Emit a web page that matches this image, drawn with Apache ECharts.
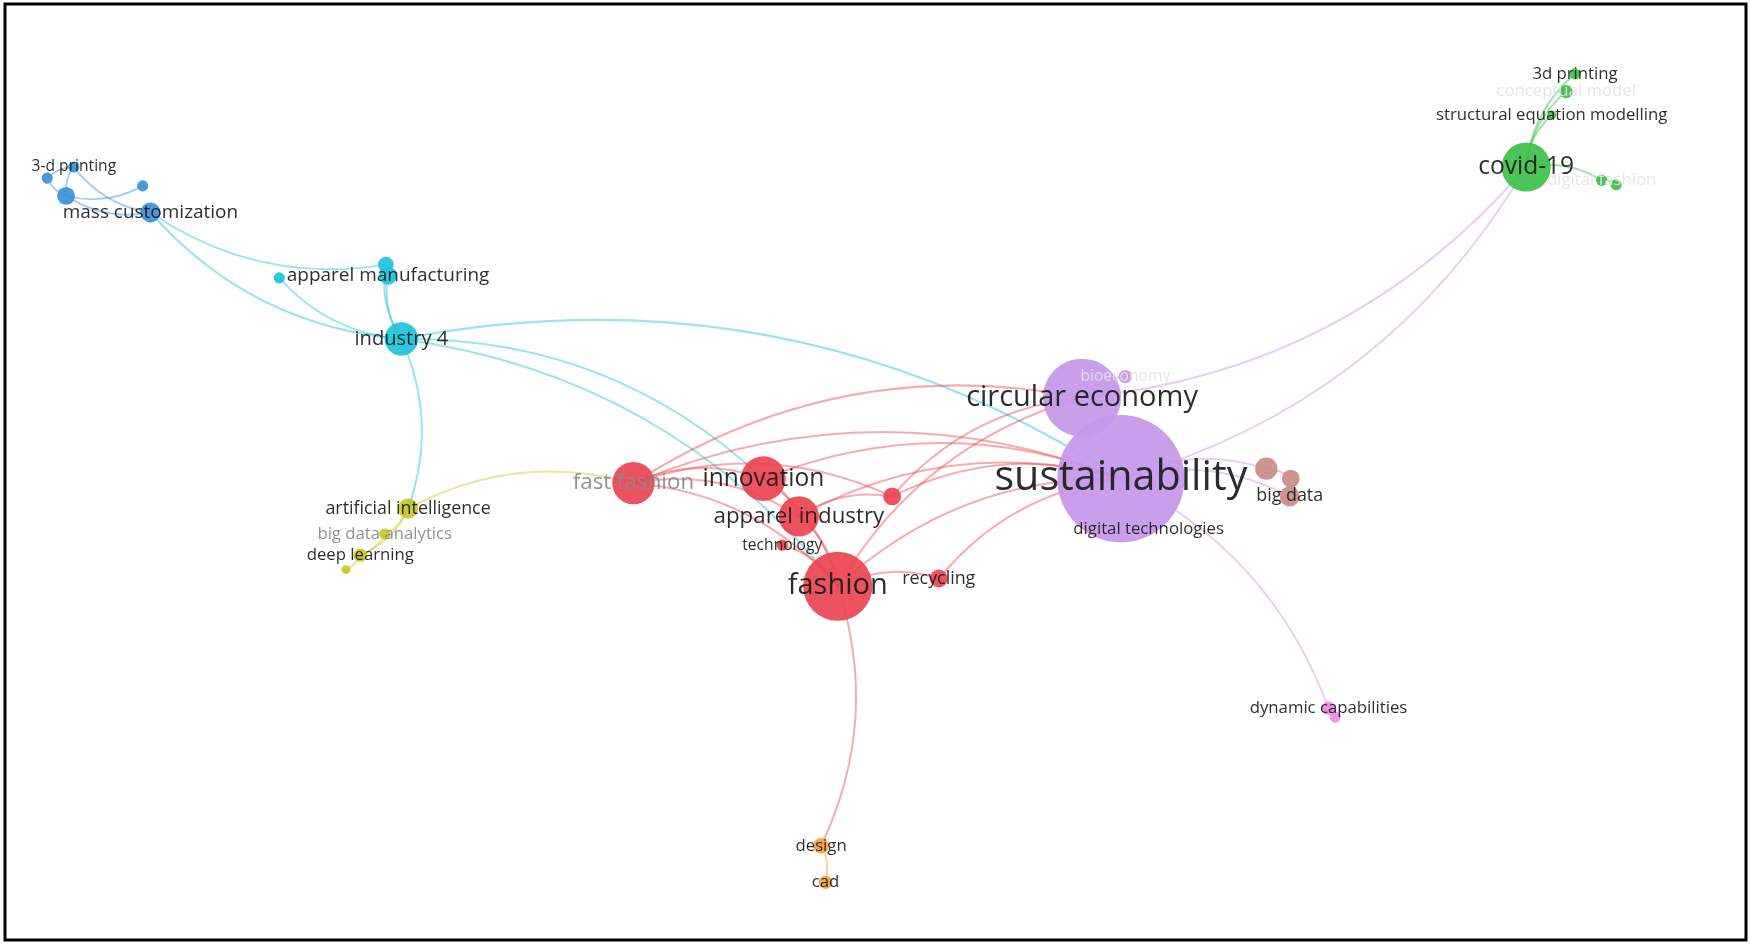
<!DOCTYPE html>
<html style="height: 100%">
<head>
<meta charset="utf-8">
<title>keyword map</title>
</head>
<body style="height: 100%; margin: 0">
<div id="container" style="width: 1750px; height: 944px"></div>
<script src="https://cdn.jsdelivr.net/npm/echarts@6/dist/echarts.min.js"></script>
<script type="text/javascript">
// map coordinates (1568 x 844 space)
var names    = ['sustainability','circular economy','bioeconomy','digital technologies','big data','brown a','brown b',
                'fashion','innovation','apparel industry','fast fashion','technology','recycling','red a',
                'industry 4','apparel manufacturing','cyan a','cyan b',
                'mass customization','blue a','blue b','3-d printing','blue c',
                'artificial intelligence','big data analytics','deep learning','yellow a',
                'covid-19','3d printing','conceptual model','structural equation modelling','digital fashion','green a',
                'dynamic capabilities','pink a','design','cad'];
var xs       = [1005,970,1009,1030,1157,1136,1158, 750,683,715,566,700,841,799, 357,345,343,247, 131,55,38,62,124, 363,342,320,307, 1370,1414,1406,1393,1438,1451, 1192,1198,735,739];
var ys       = [428,355,336,474,444,419,428, 525,428,462,432,488,518,444, 302,245,235,247, 188,173,157,147,164, 455,478,497,510, 147,63,79,100,159,163, 635,643,759,792];
var radii    = [57,35,6,3,9,10,8, 31,20,18,19,5,8,8, 15,8,7,5, 9,8,5,5,5, 9,5,6,4, 22,5,6,4,5,5, 6,5,7,6];
var clusters = [0,0,0,0,1,1,1, 2,2,2,2,2,2,2, 3,3,3,3, 4,4,4,4,4, 5,5,5,5, 6,6,6,6,6,6, 7,7,8,8];
var fonts    = [37,26,14,15,16,0,0, 26,22,20,20,14,16,0, 18,17,0,0, 17,0,0,14,0, 16,15,15,0, 22,15,15,15,15,0, 15,0,15,15];
var faint    = ['bioeconomy','conceptual model','digital fashion'];
var grey     = ['fast fashion','big data analytics'];
var colors   = ['#c497ea','#c98c84','#ea4450','#1cc4da','#3b90d8','#c9c726','#3cbf4a','#ec8ce2','#f3a23e'];
var edges = [
  ['industry 4','apparel manufacturing'],['industry 4','cyan a'],['industry 4','cyan b'],['industry 4','mass customization'],
  ['industry 4','sustainability'],['industry 4','innovation'],['industry 4','fashion'],['industry 4','artificial intelligence'],
  ['cyan a','mass customization'],['mass customization','blue a'],['blue a','3-d printing'],['blue a','blue b'],
  ['blue b','3-d printing'],['blue c','blue a'],['mass customization','3-d printing'],
  ['artificial intelligence','fast fashion'],['artificial intelligence','deep learning'],['artificial intelligence','big data analytics'],
  ['deep learning','yellow a'],['big data analytics','deep learning'],
  ['fast fashion','innovation'],['fast fashion','fashion'],['fast fashion','apparel industry'],['fast fashion','sustainability'],
  ['fast fashion','circular economy'],['fast fashion','red a'],['innovation','sustainability'],['innovation','apparel industry'],
  ['innovation','fashion'],['apparel industry','sustainability'],['apparel industry','fashion'],['technology','fashion'],
  ['fashion','design'],['design','cad'],['fashion','sustainability'],['fashion','circular economy'],['fashion','recycling'],
  ['recycling','sustainability'],['red a','sustainability'],['red a','circular economy'],['apparel industry','red a'],
  ['sustainability','covid-19'],['circular economy','covid-19'],['covid-19','3d printing'],['covid-19','conceptual model'],
  ['covid-19','structural equation modelling'],['covid-19','digital fashion'],['digital fashion','green a'],
  ['sustainability','dynamic capabilities'],['dynamic capabilities','pink a'],['sustainability','big data'],
  ['sustainability','brown a'],['brown a','brown b'],['sustainability','circular economy'],['circular economy','bioeconomy'],
  ['sustainability','digital technologies']
];
var flipped = ['covid-19'];

var k = 1750 / 1568;
var nodes = names.map(function (n, i) {
  var lc = faint.indexOf(n) >= 0 ? '#e4e4e4' : (grey.indexOf(n) >= 0 ? '#8a8a8a' : '#1a1a1a');
  return {
    name: n,
    value: [xs[i], ys[i]],
    symbolSize: radii[i] * 2 * k,
    itemStyle: { color: colors[clusters[i]], opacity: 0.92 },
    label: {
      show: fonts[i] > 0,
      position: 'inside',
      offset: n === '3-d printing' ? [-30 * k, 0] : (n === 'big data' ? [20 * k, 0] : [0, 0]),
      fontSize: fonts[i] * k,
      color: lc,
      fontFamily: 'Open Sans'
    }
  };
});
var links = edges.map(function (e) {
  var c = colors[clusters[names.indexOf(e[0])]];
  var cv = (e[1] === 'covid-19') ? -0.2 : 0.2;
  return { source: e[0], target: e[1], lineStyle: { color: c, curveness: cv } };
});

var myChart = echarts.init(document.getElementById('container'));
myChart.setOption({
  backgroundColor: '#fff',
  grid: { left: 5, right: 4, top: 4, bottom: 4, show: true, borderColor: '#000', borderWidth: 3 },
  xAxis: { type: 'value', min: 0, max: 1568, show: false },
  yAxis: { type: 'value', min: 0, max: 844, inverse: true, show: false },
  series: [{
    type: 'graph',
    coordinateSystem: 'cartesian2d',
    layout: 'none',
    symbol: 'circle',
    data: nodes,
    links: links,
    animation: false,
    lineStyle: { width: 2, opacity: 0.45, curveness: 0.2 },
    labelLayout: { hideOverlap: false }
  }]
});
</script>
</body>
</html>
